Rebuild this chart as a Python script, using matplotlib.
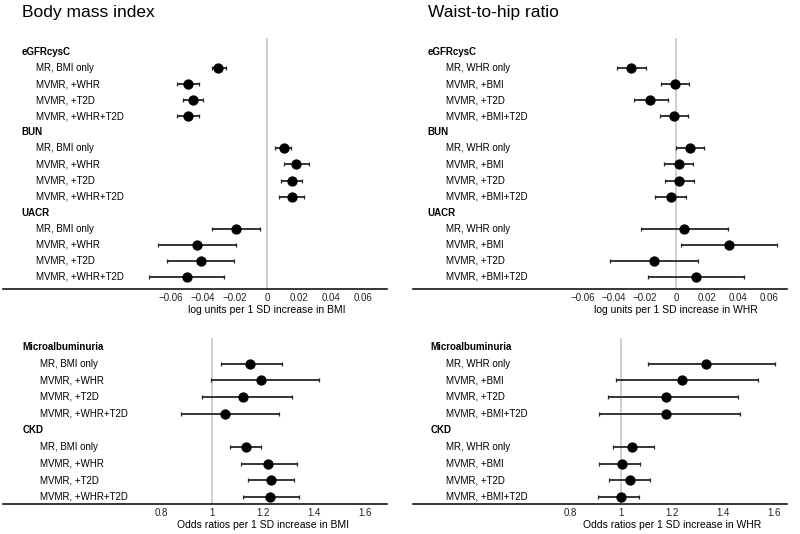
import numpy as np
import matplotlib
matplotlib.use("Agg")
import matplotlib.pyplot as plt
from matplotlib.transforms import blended_transform_factory

plt.rcParams['font.family'] = ['Liberation Sans', 'DejaVu Sans']

# row labels
cont_groups = ['eGFRcysC', 'BUN', 'UACR']
bin_groups = ['Microalbuminuria', 'CKD']
bmi_models = ['MR, BMI only', 'MVMR, +WHR', 'MVMR, +T2D', 'MVMR, +WHR+T2D']
whr_models = ['MR, WHR only', 'MVMR, +BMI', 'MVMR, +T2D', 'MVMR, +BMI+T2D']

# BMI, continuous outcomes (log units per 1 SD)
bmi_cont_est = [-0.0303, -0.0492, -0.0463, -0.0494,
                0.0104, 0.0183, 0.0154, 0.0156,
                -0.0191, -0.0436, -0.0413, -0.0501]
bmi_cont_lo = [-0.0343, -0.0561, -0.0525, -0.0563,
               0.0050, 0.0108, 0.0087, 0.0077,
               -0.0343, -0.0679, -0.0623, -0.0737]
bmi_cont_hi = [-0.0255, -0.0422, -0.0401, -0.0424,
               0.0152, 0.0260, 0.0220, 0.0231,
               -0.0042, -0.0191, -0.0206, -0.0266]

# WHR, continuous outcomes
whr_cont_est = [-0.0293, -0.0006, -0.0166, -0.0013,
                0.0090, 0.0015, 0.0019, -0.0036,
                0.0051, 0.0341, -0.0142, 0.0127]
whr_cont_lo = [-0.0385, -0.0097, -0.0274, -0.0103,
               0.0000, -0.0080, -0.0071, -0.0135,
               -0.0228, 0.0030, -0.0426, -0.0185]
whr_cont_hi = [-0.0198, 0.0084, -0.0056, 0.0077,
               0.0181, 0.0110, 0.0112, 0.0061,
               0.0333, 0.0649, 0.0139, 0.0436]

# BMI, binary outcomes (odds ratios)
bmi_bin_est = [1.149, 1.191, 1.123, 1.051,
               1.132, 1.218, 1.230, 1.227]
bmi_bin_lo = [1.035, 0.997, 0.959, 0.877,
              1.071, 1.114, 1.142, 1.123]
bmi_bin_hi = [1.276, 1.421, 1.315, 1.261,
              1.192, 1.332, 1.323, 1.340]

# WHR, binary outcomes
whr_bin_est = [1.336, 1.241, 1.178, 1.178,
               1.043, 1.003, 1.034, 0.999]
whr_bin_lo = [1.106, 0.982, 0.949, 0.916,
              0.971, 0.915, 0.953, 0.912]
whr_bin_hi = [1.603, 1.539, 1.461, 1.469,
              1.129, 1.075, 1.114, 1.071]

cont_ticks = [-0.06, -0.04, -0.02, 0, 0.02, 0.04, 0.06]
cont_ticklabels = ['\u22120.06', '\u22120.04', '\u22120.02', '0', '0.02', '0.04', '0.06']
bin_ticks = [0.8, 1.0, 1.2, 1.4, 1.6]
bin_ticklabels = ['0.8', '1', '1.2', '1.4', '1.6']


def forest(ax, groups, models, est, lo, hi, ref, xlim, ticks, ticklabels,
           xlabel, head_x, lab_x, ylim):
    ys = []
    row = 0
    tr = blended_transform_factory(ax.transAxes, ax.transData)
    for g in groups:
        ax.text(head_x, row, g, transform=tr, fontsize=7, fontweight='bold',
                va='center', ha='left')
        row += 1
        for m in models:
            ax.text(lab_x, row, m, transform=tr, fontsize=7,
                    va='center', ha='left')
            ys.append(row)
            row += 1
    est = np.array(est)
    err = [est - np.array(lo), np.array(hi) - est]
    ax.axvline(ref, color='#cccccc', lw=1.3, zorder=0)
    ax.errorbar(est, ys, xerr=err, fmt='o', color='black', ecolor='#262626',
                elinewidth=1.3, capsize=1.3, capthick=0.9, markersize=6.4,
                zorder=3)
    ax.set_xlim(xlim)
    ax.set_ylim(ylim)
    ax.set_xticks(ticks)
    ax.set_xticklabels(ticklabels)
    ax.set_yticks([])
    for s in ['top', 'left', 'right']:
        ax.spines[s].set_visible(False)
    ax.spines['bottom'].set_linewidth(1.1)
    ax.tick_params(axis='x', length=0, pad=3, labelsize=7, colors='#222222')
    ax.set_xlabel(xlabel, fontsize=7.5, labelpad=1.5)
    # centre the axis title under the tick range
    mid = (ticks[0] + ticks[-1]) / 2
    ax.xaxis.label.set_x((mid - xlim[0]) / (xlim[1] - xlim[0]))


fig = plt.figure(figsize=(8, 5.34), dpi=100)

ax1 = fig.add_axes([0.00375, 0.4588, 0.48, 0.47])
ax2 = fig.add_axes([0.516, 0.4588, 0.4675, 0.47])
ax3 = fig.add_axes([0.00375, 0.0562, 0.48, 0.311])
ax4 = fig.add_axes([0.516, 0.0562, 0.4675, 0.311])

forest(ax1, cont_groups, bmi_models, bmi_cont_est, bmi_cont_lo, bmi_cont_hi, 0,
       (-0.1645, 0.0748), cont_ticks, cont_ticklabels,
       'log units per 1 SD increase in BMI', 0.049, 0.086, (14.75, -0.87))
forest(ax2, cont_groups, whr_models, whr_cont_est, whr_cont_lo, whr_cont_hi, 0,
       (-0.170, 0.0714), cont_ticks, cont_ticklabels,
       'log units per 1 SD increase in WHR', 0.040, 0.088, (14.75, -0.87))
forest(ax3, bin_groups, bmi_models, bmi_bin_est, bmi_bin_lo, bmi_bin_hi, 1,
       (0.180, 1.686), bin_ticks, bin_ticklabels,
       'Odds ratios per 1 SD increase in BMI', 0.051, 0.096, (9.42, -0.54))
forest(ax4, bin_groups, whr_models, whr_bin_est, whr_bin_lo, whr_bin_hi, 1,
       (0.184, 1.651), bin_ticks, bin_ticklabels,
       'Odds ratios per 1 SD increase in WHR', 0.048, 0.088, (9.42, -0.54))

fig.text(22 / 800, 1 - 13 / 534, 'Body mass index', fontsize=12.5,
         va='center', ha='left')
fig.text(428 / 800, 1 - 13 / 534, 'Waist-to-hip ratio', fontsize=12.5,
         va='center', ha='left')

fig.savefig('out.png', dpi=100)
